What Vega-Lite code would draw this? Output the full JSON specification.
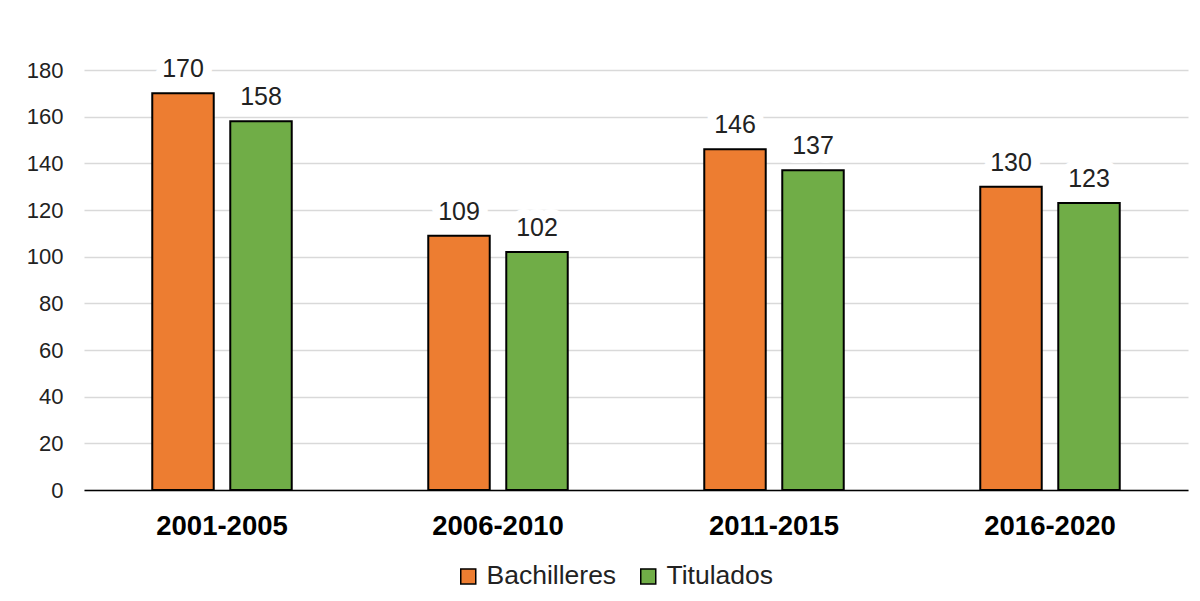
{
  "$schema": "https://vega.github.io/schema/vega-lite/v6.json",
  "width": 1104,
  "height": 420,
  "autosize": {"type": "none"},
  "padding": {"left": 84, "top": 70, "right": 12, "bottom": 111},
  "background": "white",
  "config": {"view": {"stroke": null}, "font": "Liberation Sans"},
  "data": {
    "values": [
      {"period": "2001-2005", "series": "Bachilleres", "value": 170},
      {"period": "2001-2005", "series": "Titulados", "value": 158},
      {"period": "2006-2010", "series": "Bachilleres", "value": 109},
      {"period": "2006-2010", "series": "Titulados", "value": 102},
      {"period": "2011-2015", "series": "Bachilleres", "value": 146},
      {"period": "2011-2015", "series": "Titulados", "value": 137},
      {"period": "2016-2020", "series": "Bachilleres", "value": 130},
      {"period": "2016-2020", "series": "Titulados", "value": 123}
    ]
  },
  "encoding": {
    "x": {
      "field": "period", "type": "nominal", "sort": null,
      "scale": {"paddingInner": 0, "paddingOuter": 0},
      "axis": {"title": null, "labelAngle": 0, "labelFontSize": 27.5, "labelFontWeight": "bold", "labelColor": "black", "ticks": false, "domainColor": "black", "domainWidth": 1.5, "labelPadding": 22}
    },
    "xOffset": {
      "field": "series", "type": "nominal", "sort": ["Bachilleres", "Titulados"],
      "scale": {"paddingInner": 0.212, "paddingOuter": 0.875}
    },
    "y": {
      "field": "value", "type": "quantitative",
      "scale": {"domain": [0, 180], "nice": false},
      "axis": {"title": null, "values": [0, 20, 40, 60, 80, 100, 120, 140, 160, 180], "labelFontSize": 22, "labelColor": "#222222", "domain": false, "ticks": false, "labelPadding": 21, "gridColor": "#d9d9d9", "gridWidth": 1.5}
    }
  },
  "layer": [
    {
      "mark": {"type": "bar", "stroke": "black", "strokeWidth": 2},
      "encoding": {
        "color": {
          "field": "series", "type": "nominal",
          "scale": {"domain": ["Bachilleres", "Titulados"], "range": ["#ED7D31", "#70AD47"]},
          "legend": {"title": null, "orient": "none", "legendX": 371, "legendY": 493, "direction": "horizontal", "symbolType": "square", "symbolSize": 225, "symbolStrokeColor": "black", "symbolStrokeWidth": 1.5, "symbolOpacity": 1, "labelFontSize": 26.5, "labelColor": "#222222", "labelOffset": 5, "columnPadding": 18}
        }
      }
    },
    {
      "mark": {"type": "text", "fontSize": 25, "baseline": "alphabetic", "dy": -16, "stroke": "white", "strokeWidth": 18, "strokeJoin": "round", "fill": "white"},
      "encoding": {"text": {"field": "value", "type": "quantitative"}}
    },
    {
      "mark": {"type": "text", "fontSize": 25, "baseline": "alphabetic", "dy": -16, "color": "#222222"},
      "encoding": {"text": {"field": "value", "type": "quantitative"}}
    }
  ]
}
